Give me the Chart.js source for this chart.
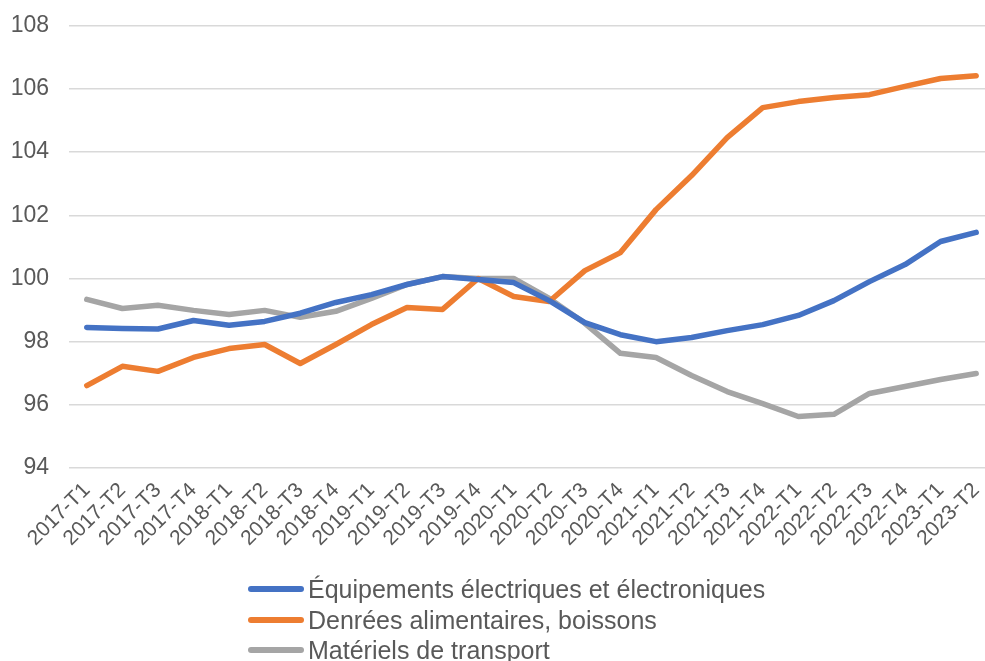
<!DOCTYPE html>
<html>
<head>
<meta charset="utf-8">
<script src="https://cdn.jsdelivr.net/npm/chart.js@4/dist/chart.umd.min.js"></script>
<style>
    html, body { margin: 0; padding: 0; background: #fff; }
    #wrap { position: relative; width: 985px; height: 661px; overflow: hidden; }
    #chart { position: absolute; left: 0; top: -8px; }
    #legend { position: absolute; left: 248px; top: 574px; font-family: "Liberation Sans", Arial, sans-serif; font-size: 25px; color: #595959; }
    .item { height: 30.5px; line-height: 30px; white-space: nowrap; display: flex; align-items: center; }
    .swatch { display: inline-block; width: 56px; height: 6px; border-radius: 3px; margin-right: 4px; }
</style>
</head>
<body>
<div id="wrap">
    <canvas id="chart" width="1004" height="669"></canvas>
    <div id="legend"></div>
</div>
<script>
const quarters = [
    "2017-T1", "2017-T2", "2017-T3", "2017-T4",
    "2018-T1", "2018-T2", "2018-T3", "2018-T4",
    "2019-T1", "2019-T2", "2019-T3", "2019-T4",
    "2020-T1", "2020-T2", "2020-T3", "2020-T4",
    "2021-T1", "2021-T2", "2021-T3", "2021-T4",
    "2022-T1", "2022-T2", "2022-T3", "2022-T4",
    "2023-T1", "2023-T2"
];

const equipements = [98.45, 98.42, 98.40, 98.67, 98.52, 98.64, 98.90, 99.24, 99.49, 99.81, 100.06, 99.97, 99.87,
    99.30, 98.60, 98.22, 98.00, 98.13, 98.35, 98.54, 98.83, 99.30, 99.90, 100.44, 101.17, 101.46];
const denrees = [96.61, 97.22, 97.06, 97.50, 97.78, 97.91, 97.31, 97.91, 98.54, 99.08, 99.02, 100.00, 99.43,
    99.27, 100.25, 100.82, 102.18, 103.26, 104.46, 105.41, 105.60, 105.73, 105.82, 106.08, 106.33, 106.42];
const transport = [99.34, 99.05, 99.15, 98.99, 98.86, 98.99, 98.77, 98.96, 99.37, 99.81, 100.06, 100.00, 100.00,
    99.37, 98.58, 97.63, 97.50, 96.93, 96.42, 96.04, 95.63, 95.70, 96.36, 96.58, 96.80, 96.99];

const textColor = "#595959";
const fontFamily = "'Liberation Sans', Arial, sans-serif";

function lineSet(label, color, data) {
    return {
        label: label,
        data: data,
        borderColor: color,
        backgroundColor: color,
        borderWidth: 5.5,
        pointRadius: 0,
        tension: 0,
        borderCapStyle: "round",
        borderJoinStyle: "round",
        fill: false
    };
}

let chart = new Chart(document.getElementById("chart"), {
    type: "line",
    data: {
        labels: quarters,
        datasets: [
            lineSet("Équipements électriques et électroniques", "#4472C4", equipements),
            lineSet("Denrées alimentaires, boissons", "#ED7D31", denrees),
            lineSet("Matériels de transport", "#A5A5A5", transport)
        ]
    },
    options: {
        responsive: false,
        animation: false,
        layout: {
            padding: { top: 5, right: 0, bottom: 93, left: 0 }
        },
        plugins: {
            legend: { display: false },
            tooltip: { enabled: false }
        },
        scales: {
            x: {
                offset: true,
                grid: { display: false, drawTicks: false },
                border: { display: false },
                ticks: {
                    autoSkip: false,
                    maxRotation: 45,
                    minRotation: 45,
                    padding: 10,
                    color: textColor,
                    font: { family: fontFamily, size: 21 }
                },
                afterFit: function (scale) { scale.height = 100; }
            },
            y: {
                min: 94,
                max: 108,
                ticks: {
                    stepSize: 2,
                    padding: 20,
                    color: textColor,
                    font: { family: fontFamily, size: 23 }
                },
                grid: {
                    color: "#D9D9D9",
                    lineWidth: 1.5,
                    drawTicks: false
                },
                border: { display: false },
                afterFit: function (scale) { scale.width = 69; }
            }
        }
    }
});

// legend stacked one entry per row, as in the reference
let legend = document.getElementById("legend");
chart.data.datasets.forEach(function (ds) {
    let row = document.createElement("div");
    row.className = "item";
    let sw = document.createElement("span");
    sw.className = "swatch";
    sw.style.background = ds.borderColor;
    row.appendChild(sw);
    row.appendChild(document.createTextNode(ds.label));
    legend.appendChild(row);
});
</script>
</body>
</html>
